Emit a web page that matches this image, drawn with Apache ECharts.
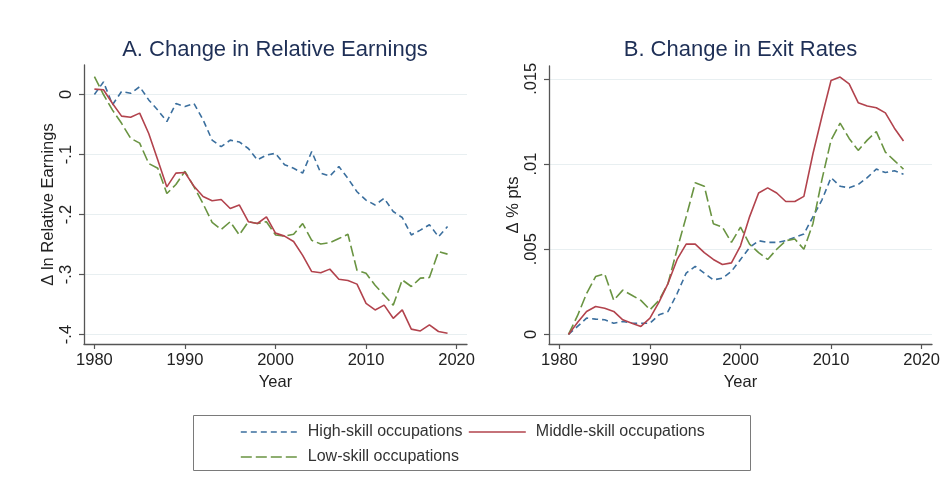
<!DOCTYPE html>
<html><head><meta charset="utf-8">
<script src="https://cdn.jsdelivr.net/npm/echarts@6/dist/echarts.min.js"></script>
<style>html,body{margin:0;padding:0;background:#fff}#c{width:948px;height:478px}</style>
</head><body><div id="c"></div>
<script>
// ---- Panel A: change in relative earnings (1980-2019)
const yearsA = [1980,1981,1982,1983,1984,1985,1986,1987,1988,1989,1990,1991,1992,1993,1994,1995,1996,1997,1998,1999,2000,2001,2002,2003,2004,2005,2006,2007,2008,2009,2010,2011,2012,2013,2014,2015,2016,2017,2018,2019];
const highA = [0.000,0.021,-0.017,0.005,0.002,0.013,-0.009,-0.026,-0.045,-0.015,-0.020,-0.015,-0.042,-0.076,-0.087,-0.076,-0.079,-0.090,-0.109,-0.101,-0.098,-0.117,-0.123,-0.131,-0.095,-0.131,-0.136,-0.120,-0.140,-0.162,-0.176,-0.184,-0.173,-0.195,-0.205,-0.234,-0.226,-0.217,-0.237,-0.220];
const middleA = [0.009,0.008,-0.015,-0.036,-0.038,-0.031,-0.065,-0.109,-0.154,-0.131,-0.130,-0.153,-0.170,-0.177,-0.175,-0.190,-0.184,-0.212,-0.215,-0.204,-0.231,-0.236,-0.245,-0.268,-0.295,-0.297,-0.291,-0.308,-0.310,-0.316,-0.348,-0.359,-0.351,-0.373,-0.359,-0.391,-0.394,-0.384,-0.395,-0.398];
const lowA = [0.030,0.000,-0.026,-0.048,-0.073,-0.081,-0.115,-0.123,-0.165,-0.150,-0.128,-0.154,-0.182,-0.213,-0.225,-0.212,-0.234,-0.212,-0.215,-0.212,-0.234,-0.236,-0.233,-0.215,-0.243,-0.249,-0.247,-0.240,-0.233,-0.293,-0.298,-0.318,-0.334,-0.351,-0.309,-0.320,-0.306,-0.305,-0.262,-0.266];

// ---- Panel B: change in exit rates (1981-2018)
const yearsB = [1981,1982,1983,1984,1985,1986,1987,1988,1989,1990,1991,1992,1993,1994,1995,1996,1997,1998,1999,2000,2001,2002,2003,2004,2005,2006,2007,2008,2009,2010,2011,2012,2013,2014,2015,2016,2017,2018];
const highB = [0,0.00047,0.00096,0.0009,0.00086,0.00066,0.00076,0.00066,0.00066,0.00066,0.00115,0.00135,0.0024,0.0036,0.0040,0.0036,0.0032,0.0033,0.0037,0.0044,0.0051,0.0055,0.0054,0.0054,0.0055,0.0057,0.0059,0.0069,0.0079,0.0092,0.0087,0.0086,0.0088,0.0092,0.0097,0.0095,0.0096,0.0094];
const middleB = [0,0.0007,0.00135,0.00164,0.00154,0.00135,0.00086,0.00066,0.00047,0.00096,0.0019,0.0030,0.0044,0.0053,0.0053,0.0048,0.0044,0.0041,0.0042,0.0052,0.0069,0.0083,0.0086,0.0083,0.0078,0.0078,0.0081,0.0106,0.0128,0.0149,0.0151,0.0147,0.0136,0.0134,0.0133,0.0130,0.0121,0.01135];
const lowB = [0,0.0011,0.0024,0.0034,0.00356,0.0020,0.0026,0.0023,0.0020,0.00145,0.0020,0.0030,0.0050,0.0069,0.0089,0.0087,0.0065,0.0063,0.0054,0.0063,0.0053,0.0048,0.0044,0.0050,0.0055,0.0056,0.0050,0.0065,0.0091,0.0114,0.0124,0.0115,0.0108,0.0114,0.0119,0.0107,0.0102,0.0097];

// ---- ticks and labels
const xTicks = [1980,1990,2000,2010,2020];
const yTicksA = [0,-0.1,-0.2,-0.3,-0.4];
const yLabelsA = ['0','-.1','-.2','-.3','-.4'];
const yTicksB = [0,0.005,0.01,0.015];
const yLabelsB = ['0','.005','.01','.015'];
const names = ['High-skill occupations','Middle-skill occupations','Low-skill occupations'];
const titles = ['A. Change in Relative Earnings','B. Change in Exit Rates'];

const FONT = '"Liberation Sans", Arial, Helvetica, sans-serif';
const AXIS = '#555';
const colors = ['#3b6f9e','#b2434d','#6a9442'];
const dashes = [[6,4],'solid',[11,4]];

function pairs(xs, ys){ return xs.map((x,i)=>[x, ys[i]]); }
function labelFor(ticks, labels){
  return v => { for (let i=0;i<ticks.length;i++){ if (Math.abs(ticks[i]-v) < 1e-9) return labels[i]; } return ''; };
}
function xAxis(grid){
  return {
    type:'value', gridIndex:grid, min:1978.85, max:2021.15,
    name:'Year', nameLocation:'middle', nameGap:26,
    nameTextStyle:{fontSize:16.5, color:'#222', fontFamily:FONT},
    axisLine:{show:true, onZero:false, lineStyle:{color:AXIS, width:1.3}},
    axisTick:{show:true, length:5, customValues:xTicks, lineStyle:{color:AXIS, width:1.2}},
    axisLabel:{customValues:xTicks, margin:8, fontSize:16.5, color:'#222', fontFamily:FONT, formatter:v=>String(v)},
    splitLine:{show:false}
  };
}
function yAxis(grid, min, max, ticks, labels, name, gap){
  return {
    type:'value', gridIndex:grid, min:min, max:max,
    name:name, nameLocation:'middle', nameGap:gap,
    nameTextStyle:{fontSize:16.5, color:'#222', fontFamily:FONT},
    axisLine:{show:true, onZero:false, lineStyle:{color:AXIS, width:1.3}},
    axisTick:{show:true, length:5, customValues:ticks, lineStyle:{color:AXIS, width:1.2}},
    axisLabel:{customValues:ticks, rotate:90, margin:9, fontSize:16.5, color:'#222', fontFamily:FONT, formatter:labelFor(ticks, labels)},
    splitLine:{show:true, lineStyle:{color:'#e8eff1', width:1.2}}
  };
}
function series(name, idx, grid, xs, ys){
  return {
    type:'line', name:name, xAxisIndex:grid, yAxisIndex:grid,
    data:pairs(xs, ys), showSymbol:false, symbol:'none', smooth:false,
    lineStyle:{color:colors[idx], width:1.6, type:dashes[idx]},
    itemStyle:{color:colors[idx]}, z: idx===1 ? 3 : 2
  };
}
function legend(name, left, top){
  return {
    data:[name], left:left, top:top, orient:'horizontal', padding:0, itemGap:0,
    itemWidth:57, itemHeight:12, selectedMode:false,
    itemStyle:{opacity:0, borderWidth:0},
    lineStyle:{width:1.6},
    textStyle:{fontSize:16, color:'#333', fontFamily:FONT, padding:[0,0,0,5]}
  };
}

const chart = echarts.init(document.getElementById('c'), null, {renderer:'canvas'});
chart.setOption({
  animation:false,
  backgroundColor:'#ffffff',
  textStyle:{fontFamily:FONT},
  grid:[
    {left:84, top:65, width:383, height:279},
    {left:549, top:66, width:383, height:278}
  ],
  xAxis:[xAxis(0), xAxis(1)],
  yAxis:[
    yAxis(0, -0.4158, 0.0492, yTicksA, yLabelsA, 'Δ ln Relative Earnings', 27),
    yAxis(1, -0.00056, 0.01575, yTicksB, yLabelsB, 'Δ % pts', 27)
  ],
  legend:[
    legend(names[0], 240, 424),
    legend(names[1], 468, 424),
    legend(names[2], 240, 449)
  ],
  series:[
    series(names[0],0,0,yearsA,highA),
    series(names[1],1,0,yearsA,middleA),
    series(names[2],2,0,yearsA,lowA),
    series(names[0],0,1,yearsB,highB),
    series(names[1],1,1,yearsB,middleB),
    series(names[2],2,1,yearsB,lowB)
  ],
  graphic:[
    {type:'text', x:275, y:50, style:{text:titles[0], textAlign:'center', textVerticalAlign:'middle', fontSize:22, fontFamily:FONT, fill:'#1e2f56'}},
    {type:'text', x:740.5, y:50, style:{text:titles[1], textAlign:'center', textVerticalAlign:'middle', fontSize:22, fontFamily:FONT, fill:'#1e2f56'}},
    {type:'rect', shape:{x:193.5, y:415.5, width:557, height:55}, style:{fill:'none', stroke:'#7a7a7a', lineWidth:1}, silent:true}
  ]
});
</script></body></html>
